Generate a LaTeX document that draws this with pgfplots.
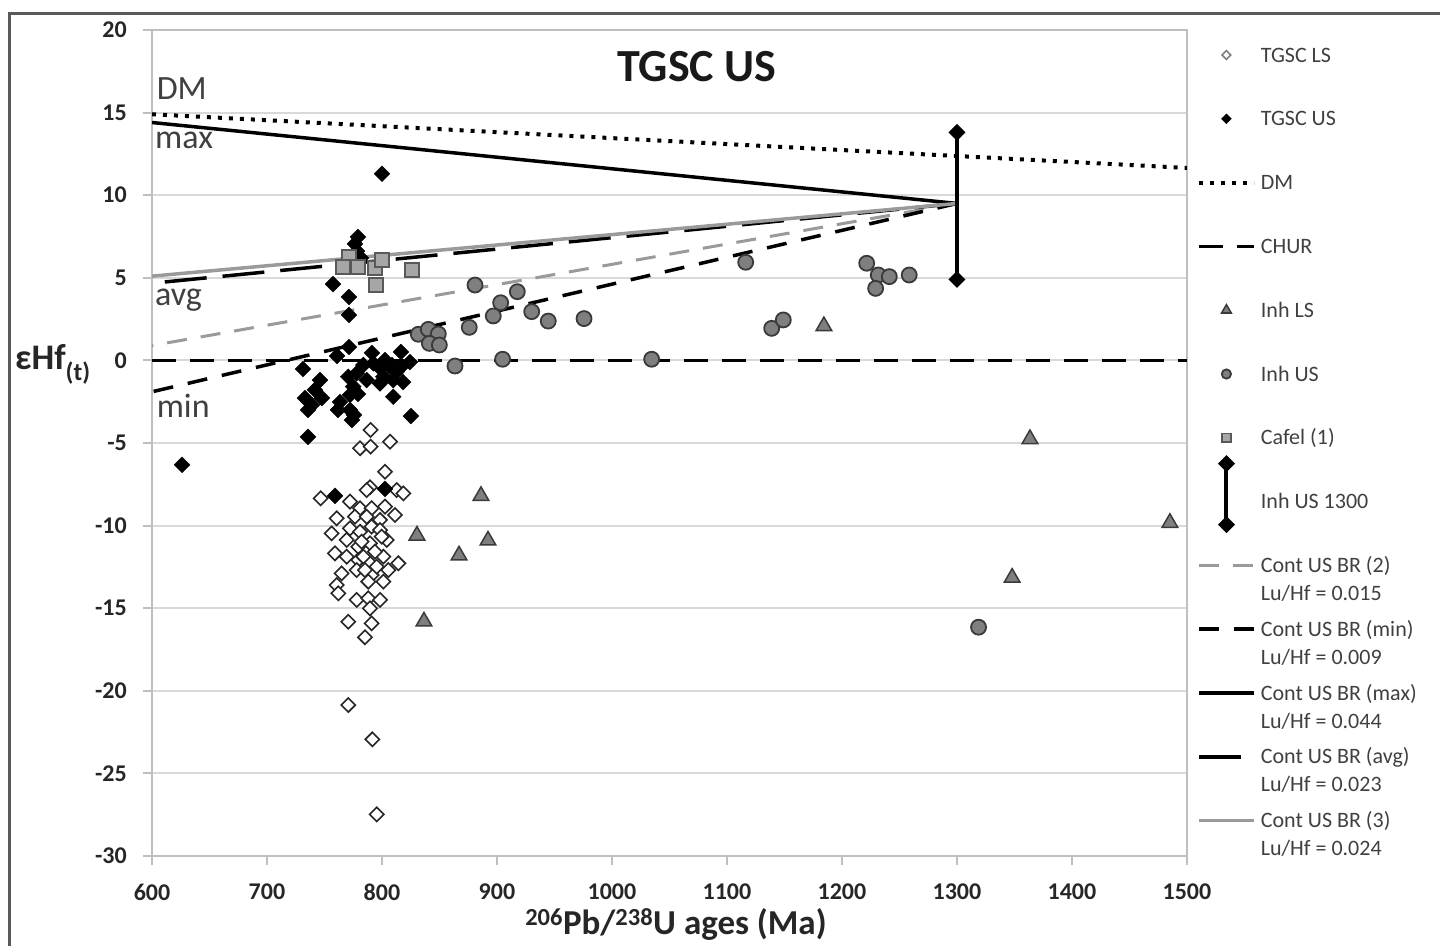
\documentclass[border=0pt]{standalone}
\usepackage{pgfplots}
\pgfplotsset{compat=1.18}
\usepackage{fontspec}
\setmainfont{Carlito}

\definecolor{gridgray}{HTML}{D9D9D9}
\definecolor{axgray}{HTML}{BFBFBF}
\definecolor{txtgray}{HTML}{404040}
\definecolor{markgray}{HTML}{7F7F7F}
\definecolor{edgegray}{HTML}{3A3A3A}
\definecolor{sqfill}{HTML}{A6A6A6}
\definecolor{sqedge}{HTML}{595959}
\definecolor{brgray}{HTML}{9A9A9A}
\definecolor{framegray}{HTML}{595959}

% zircon data: age (Ma) and epsilon Hf(t)
\pgfplotstableread{
x y
790.1 -4.21
780.9 -5.32
790.1 -5.22
807.0 -4.92
802.6 -6.74
812.8 -7.85
818.6 -8.05
789.6 -7.68
786.7 -7.85
746.7 -8.35
772.2 -8.55
780.9 -8.95
791.0 -8.95
802.6 -8.85
811.3 -9.36
760.6 -9.56
776.5 -9.46
786.7 -9.46
798.3 -9.66
756.2 -10.47
772.2 -10.17
780.9 -10.37
791.0 -10.06
804.1 -10.87
798.3 -10.27
769.3 -10.87
779.4 -11.28
789.6 -11.07
799.7 -10.67
782.3 -10.97
759.1 -11.68
769.3 -11.88
779.4 -12.08
789.6 -12.28
801.2 -11.88
814.2 -12.28
783.8 -11.88
793.9 -11.58
764.9 -12.89
778.0 -12.69
791.0 -12.99
801.2 -13.39
805.5 -12.69
785.2 -12.69
795.4 -12.49
788.1 -13.39
760.6 -13.60
762.0 -14.10
778.0 -14.50
788.1 -14.40
798.3 -14.50
789.6 -15.01
770.7 -15.82
791.0 -15.92
785.2 -16.76
770.7 -20.86
791.6 -22.94
795.4 -27.48
}\tgscls

\pgfplotstableread{
x y
800.0 11.30
779.1 7.47
776.5 7.05
778.3 6.62
781.7 6.20
757.4 4.62
771.3 3.84
771.3 2.75
771.3 0.81
760.9 0.27
791.3 0.45
816.5 0.51
731.3 -0.52
808.7 -0.28
802.6 0.02
783.8 -0.28
792.5 -0.18
798.3 -0.48
807.0 -0.38
812.8 -0.68
815.7 -0.46
824.3 -0.10
770.7 -0.99
778.0 -0.78
786.7 -1.19
801.2 -0.99
809.8 -1.19
818.3 -1.31
775.0 -1.59
798.3 -1.39
746.1 -1.19
741.7 -1.79
747.8 -2.28
733.0 -2.28
739.1 -2.70
763.5 -2.52
772.2 -2.09
779.1 -2.03
809.8 -2.20
772.2 -3.00
775.7 -3.30
825.2 -3.37
735.7 -3.00
761.7 -3.00
773.9 -3.61
735.7 -4.63
626.1 -6.32
802.6 -7.78
759.1 -8.20
}\tgscus

\pgfplotstableread{
x y
1184.3 2.08
1363.5 -4.76
1485.2 -9.83
1348.0 -13.15
886.1 -8.20
830.4 -10.60
892.2 -10.90
867.0 -11.80
836.5 -15.80
}\inhls

\pgfplotstableread{
x y
880.9 4.56
917.7 4.16
903.2 3.49
896.8 2.69
930.2 2.95
944.6 2.38
975.7 2.53
875.9 2.00
831.6 1.58
840.3 1.88
849.0 1.60
841.2 1.03
849.9 0.93
863.5 -0.34
904.9 0.07
1034.5 0.07
1116.3 5.94
1221.5 5.88
1231.6 5.17
1241.2 5.07
1229.3 4.36
1258.5 5.17
1138.9 1.94
1149.0 2.45
1318.8 -16.15
}\inhus

\pgfplotstableread{
x y
771.6 6.24
766.4 5.67
779.4 5.67
794.0 5.57
799.7 6.08
794.8 4.56
825.8 5.47
}\cafel

\begin{document}
\begin{tikzpicture}[x=1pt,y=1pt]
\path[use as bounding box] (0,0) rectangle (1440,945);
\draw[framegray, line width=3pt] (9,-5) -- (9,931.5) -- (1445,931.5);
\begin{axis}[
  at={(152pt,89pt)}, anchor=south west,
  scale only axis, width=1035pt, height=826pt,
  clip mode=individual,
  xmin=600, xmax=1500, ymin=-30, ymax=20,
  xtick={600,700,...,1500}, ytick={-30,-25,...,20},
  ymajorgrids, grid style={gridgray, line width=2pt},
  axis line style={axgray, line width=2pt},
  major tick style={axgray, line width=2pt},
  major tick length=9pt, tick align=outside,
  xtick pos=bottom, ytick pos=left,
  /pgf/number format/assume math mode=true,
  /pgf/number format/1000 sep={},
  ticklabel style={font=\fontsize{24}{24}\selectfont\bfseries, text=black!85},
  xticklabel style={anchor=north, inner sep=0pt, yshift=-19pt},
  yticklabel style={anchor=east, inner sep=0pt, xshift=-16pt},
  legend style={at={(axis description cs:1.00966,1.00835)}, anchor=north west,
    draw=none, fill=none, inner sep=0pt, outer sep=0pt,
    row sep=0pt, column sep=5pt,
    nodes={inner sep=0pt, text height=38.9pt, text depth=24.9pt,
      font=\fontsize{22}{28}\selectfont, text=txtgray},
    cells={anchor=west}},
  legend cell align=left,
  mleg/.style={legend image code/.code={%
    \draw[only marks, every mark/.append style={scale=0.62}] plot coordinates {(27.5pt,0pt)};}},
  lleg/.style={legend image code/.code={\draw (0pt,0pt) -- (55pt,0pt);}},
]
% legend entries
\addlegendimage{mleg, only marks, mark=square*, mark size=5pt, mark options={rotate=45, fill=white, draw=gray, line width=1.6pt}}
\addlegendentry{TGSC LS}
\addlegendimage{mleg, only marks, mark=square*, mark size=5.6pt, mark options={rotate=45, fill=black, draw=black}}
\addlegendentry{TGSC US}
\addlegendimage{lleg, black, line width=4pt, dash pattern=on 4pt off 7pt}
\addlegendentry{DM}
\addlegendimage{lleg, black, line width=3.5pt, dash pattern=on 24pt off 14pt}
\addlegendentry{CHUR}
\addlegendimage{mleg, only marks, mark=triangle*, mark size=9pt, mark options={fill=markgray, draw=edgegray, line width=1.5pt}}
\addlegendentry{Inh LS}
\addlegendimage{mleg, only marks, mark=*, mark size=7.5pt, mark options={fill=markgray, draw=edgegray, line width=1.8pt}}
\addlegendentry{Inh US}
\addlegendimage{mleg, only marks, mark=square*, mark size=7pt, mark options={fill=sqfill, draw=sqedge, line width=1.8pt}}
\addlegendentry{Cafel (1)}
\addlegendimage{black, line width=4pt, legend image code/.code={%
  \draw[overlay, mark=square*, mark size=4pt, mark options={rotate=45, solid, fill=black}]
    plot coordinates {(27.5pt,-23pt) (27.5pt,38pt)};}}
\addlegendentry{Inh US 1300}
\addlegendimage{lleg, brgray, line width=3pt, dash pattern=on 20pt off 14pt}
\addlegendentry{\begin{tabular}[t]{@{}l@{}}Cont US BR (2)\\Lu/Hf = 0.015\end{tabular}}
\addlegendimage{lleg, black, line width=3.5pt, dash pattern=on 20pt off 15pt}
\addlegendentry{\begin{tabular}[t]{@{}l@{}}Cont US BR (min)\\Lu/Hf = 0.009\end{tabular}}
\addlegendimage{lleg, black, line width=3.5pt}
\addlegendentry{\begin{tabular}[t]{@{}l@{}}Cont US BR (max)\\Lu/Hf = 0.044\end{tabular}}
\addlegendimage{lleg, black, line width=3.5pt, dash pattern=on 42pt off 16pt}
\addlegendentry{\begin{tabular}[t]{@{}l@{}}Cont US BR (avg)\\Lu/Hf = 0.023\end{tabular}}
\addlegendimage{lleg, brgray, line width=3.5pt}
\addlegendentry{\begin{tabular}[t]{@{}l@{}}Cont US BR (3)\\Lu/Hf = 0.024\end{tabular}}

% reference evolution lines
\addplot[forget plot, black, line width=4pt, dash pattern=on 4pt off 7pt] coordinates {(600,14.9) (1500,11.65)};
\addplot[forget plot, black, line width=3.5pt, dash pattern=on 24pt off 14pt] coordinates {(600,0) (1500,0)};
\addplot[forget plot, brgray, line width=3pt, dash pattern=on 20pt off 14pt] coordinates {(1300,9.5) (600,0.9)};
\addplot[forget plot, black, line width=3.5pt, dash pattern=on 20pt off 15pt] coordinates {(1300,9.5) (600,-1.9)};
\addplot[forget plot, black, line width=3.5pt] coordinates {(1300,9.5) (600,14.4)};
\addplot[forget plot, black, line width=3.5pt, dash pattern=on 42pt off 16pt] coordinates {(1300,9.5) (600,4.67)};
\addplot[forget plot, brgray, line width=3.5pt] coordinates {(1300,9.5) (600,5.1)};
\addplot[forget plot, black, line width=4pt, mark=square*, mark size=4pt, mark options={rotate=45, solid, fill=black}] coordinates {(1300,13.8) (1300,4.9)};

% zircon analyses
\addplot[forget plot, only marks, mark=square*, mark size=5pt, mark options={rotate=45, fill=white, draw=black!85, line width=1.6pt}] table {\tgscls};
\addplot[forget plot, only marks, mark=square*, mark size=5.6pt, mark options={rotate=45, fill=black, draw=black}] table {\tgscus};
\addplot[forget plot, only marks, mark=triangle*, mark size=9pt, mark options={fill=markgray, draw=edgegray, line width=1.5pt}] table {\inhls};
\addplot[forget plot, only marks, mark=*, mark size=7.5pt, mark options={fill=markgray, draw=edgegray, line width=1.8pt}] table {\inhus};
\addplot[forget plot, only marks, mark=square*, mark size=7pt, mark options={fill=sqfill, draw=sqedge, line width=1.8pt}] table {\cafel};

% annotations
\node[anchor=center, font=\fontsize{46}{46}\selectfont\bfseries, text=black!90] at (axis cs:1073.9,17.76) {TGSC US};
\node[anchor=west, inner sep=0pt, font=\fontsize{34}{34}\selectfont, text=txtgray] at (axis cs:604,16.46) {DM};
\node[anchor=west, inner sep=0pt, font=\fontsize{34}{34}\selectfont, text=txtgray] at (axis cs:602.6,13.3) {max};
\node[anchor=west, inner sep=0pt, font=\fontsize{34}{34}\selectfont, text=txtgray] at (axis cs:602.6,3.62) {avg};
\node[anchor=west, inner sep=0pt, font=\fontsize{34}{34}\selectfont, text=txtgray] at (axis cs:604,-2.76) {min};

% axis titles
\node[anchor=base west, inner sep=0pt, font=\fontsize{36}{36}\selectfont\bfseries, text=black!85]
  at (axis description cs:-0.1324,0.5884) {εHf\textsubscript{(t)}};
\node[anchor=base, inner sep=0pt, font=\fontsize{35}{35}\selectfont\bfseries, text=black!85]
  at (axis description cs:0.5063,-0.0956) {\textsuperscript{206}Pb/\textsuperscript{238}U ages (Ma)};
\end{axis}
\end{tikzpicture}
\end{document}
